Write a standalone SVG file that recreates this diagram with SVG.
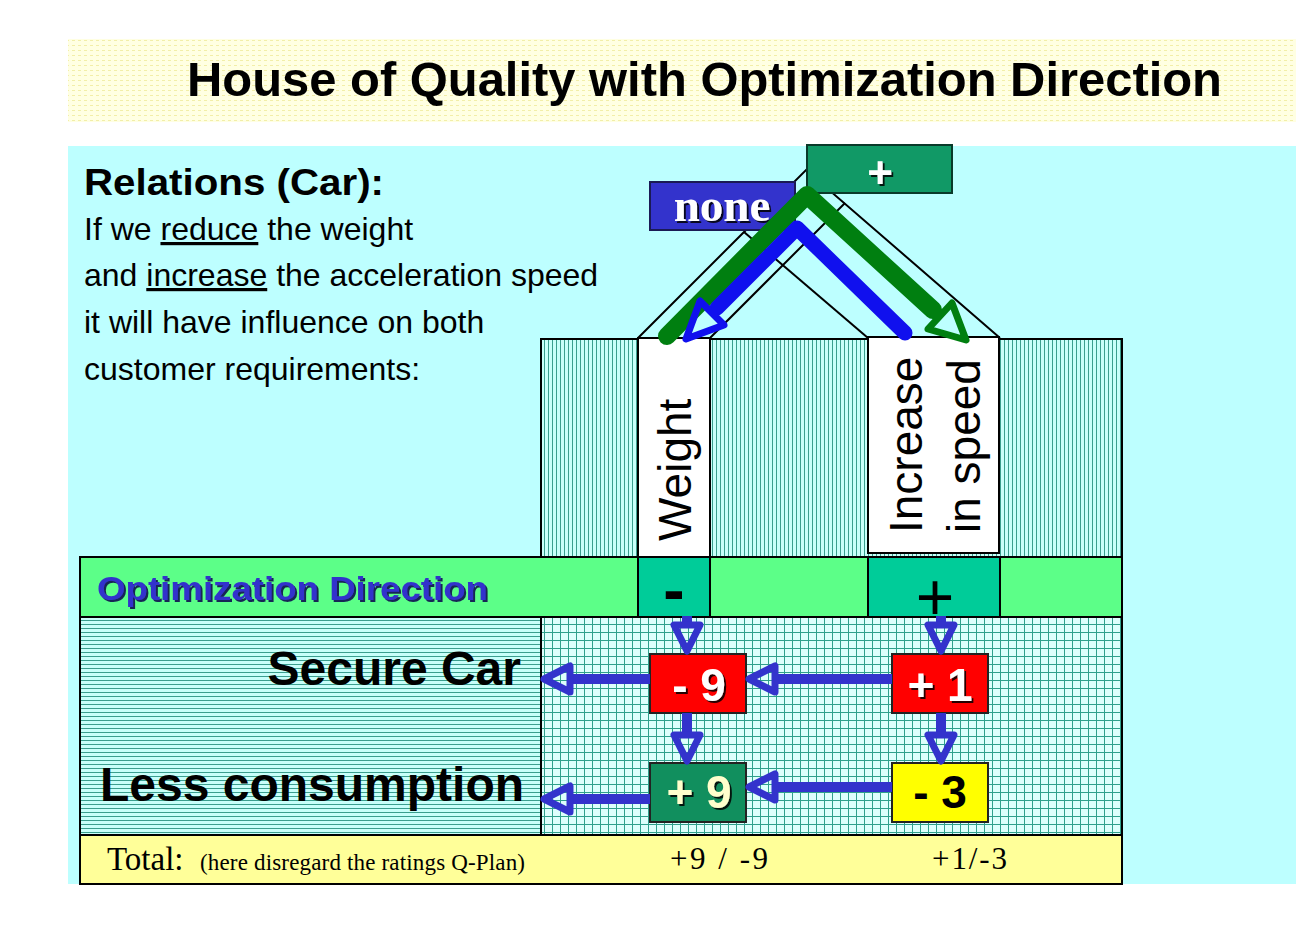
<svg xmlns="http://www.w3.org/2000/svg" width="1296" height="932" viewBox="0 0 1296 932">
<defs>
  <style>
    .sans { font-family: "Liberation Sans", Arial, sans-serif; }
    .serif { font-family: "Liberation Serif", "Times New Roman", serif; }
    .frame { stroke: #000; stroke-width: 2; }
    .roof { stroke: #000; stroke-width: 2; fill: none; }
    .conn { stroke: #3333CC; stroke-width: 10; fill: none; marker-end: url(#hb); }
    .boxtxt { font-family: "Liberation Sans", Arial, sans-serif; font-weight: bold; font-size: 46px; text-anchor: middle; }
  </style>
  <pattern id="titlePat" width="6" height="5" patternUnits="userSpaceOnUse">
    <rect width="6" height="5" fill="#FFFFE2"/>
    <rect x="0" y="0" width="3" height="1" fill="#F2EEA8"/>
  </pattern>
  <pattern id="vh" width="4" height="10" patternUnits="userSpaceOnUse">
    <rect width="4" height="10" fill="#C8FFFA"/>
    <rect x="0" y="0" width="1" height="10" fill="#3A9E8E"/>
  </pattern>
  <pattern id="hh" width="10" height="4" patternUnits="userSpaceOnUse">
    <rect width="10" height="4" fill="#C8FFFA"/>
    <rect x="0" y="0" width="10" height="1" fill="#3A9E8E"/>
  </pattern>
  <pattern id="grid" width="8" height="8" patternUnits="userSpaceOnUse">
    <rect width="8" height="8" fill="#DDFFFC"/>
    <rect x="0" y="0" width="1" height="8" fill="#2FA08C"/>
    <rect x="0" y="0" width="8" height="1" fill="#2FA08C"/>
  </pattern>
  <filter id="sh" x="-20%" y="-20%" width="140%" height="150%">
    <feDropShadow dx="2" dy="2" stdDeviation="0.4" flood-color="#000" flood-opacity="0.85"/>
  </filter>
  <filter id="shBlue" x="-10%" y="-20%" width="120%" height="150%">
    <feDropShadow dx="2" dy="2" stdDeviation="0.3" flood-color="#101050" flood-opacity="0.9"/>
  </filter>
  <marker id="hb" markerUnits="userSpaceOnUse" orient="auto" viewBox="-30 -30 60 60" markerWidth="60" markerHeight="60" refX="0" refY="0" overflow="visible">
    <path d="M0,-13 L26,0 L0,13 Z" fill="none" stroke="#3333CC" stroke-width="7" stroke-linejoin="round"/>
  </marker>
</defs>

<!-- backgrounds -->
<rect x="0" y="0" width="1296" height="932" fill="#FFFFFF"/>
<rect x="68" y="39" width="1228" height="83" fill="url(#titlePat)"/>
<rect x="68" y="146" width="1228" height="738" fill="#BDFFFF"/>

<g id="title">
  <text class="sans" x="187" y="96" font-size="48" font-weight="bold" fill="#000" textLength="1035" lengthAdjust="spacingAndGlyphs">House of Quality with Optimization Direction</text>
</g>

<g id="description" class="sans" fill="#000">
  <text x="84" y="195" font-size="36" font-weight="bold" textLength="300" lengthAdjust="spacingAndGlyphs">Relations (Car):</text>
  <text x="84" y="240" font-size="32">If we  <tspan text-decoration="underline">reduce</tspan> the weight</text>
  <text x="84" y="286" font-size="32">and <tspan text-decoration="underline">increase</tspan> the acceleration speed</text>
  <text x="84" y="333" font-size="32">it will have influence on both</text>
  <text x="84" y="380" font-size="32">customer requirements:</text>
</g>

<!-- header (columns) area -->
<g id="header-area">
  <rect x="541" y="339" width="581" height="218" fill="url(#vh)" class="frame"/>
</g>

<g id="col-weight">
  <rect x="638" y="338" width="72" height="219" fill="#FFFFFF" class="frame"/>
  <text class="sans" font-size="46" fill="#000" transform="translate(691,541) rotate(-90)">Weight</text>
</g>

<g id="col-speed">
  <rect x="868" y="337" width="131" height="216" fill="#FFFFFF" class="frame"/>
  <text class="sans" font-size="46" fill="#000" transform="translate(922,533) rotate(-90)">Increase</text>
  <text class="sans" font-size="46" fill="#000" transform="translate(980,533) rotate(-90)">in speed</text>
</g>

<!-- roof -->
<g id="roof">
  <polyline class="roof" points="638,338 806,170 1000,338"/>
  <line class="roof" x1="710" y1="338" x2="845" y2="203"/>
  <line class="roof" x1="868" y1="338" x2="744" y2="232"/>
</g>

<g id="corr-none">
  <rect x="650" y="182" width="145" height="48" fill="#3333CC" stroke="#1A1A55" stroke-width="2"/>
  <text class="serif" x="722" y="221" font-size="47" font-weight="bold" fill="#FFFFFF" text-anchor="middle" filter="url(#sh)">none</text>
</g>

<g id="corr-plus">
  <rect x="807" y="145" width="145" height="48" fill="#119966" stroke="#0A3A2A" stroke-width="2"/>
  <text class="sans" x="880" y="188" font-size="44" font-weight="bold" fill="#FFFFFF" text-anchor="middle" filter="url(#sh)">+</text>
</g>

<!-- optimization direction row -->
<g id="opt-row">
  <rect x="80" y="557" width="1042" height="60" fill="#5CFF88" class="frame"/>
  <rect x="638" y="557" width="72" height="60" fill="#00CC99" class="frame"/>
  <rect x="868" y="557" width="132" height="60" fill="#00CC99" class="frame"/>
  <text class="sans" x="97" y="600" font-size="34" font-weight="bold" fill="#3333CC" textLength="391" lengthAdjust="spacingAndGlyphs" filter="url(#shBlue)">Optimization Direction</text>
  <text class="sans" x="674" y="612" font-size="64" font-weight="bold" fill="#000" text-anchor="middle">-</text>
  <text class="sans" x="935" y="620" font-size="66" fill="#000" text-anchor="middle">+</text>
</g>

<!-- matrix -->
<g id="matrix">
  <rect x="80" y="617" width="461" height="218" fill="url(#hh)" class="frame"/>
  <rect x="541" y="617" width="581" height="218" fill="url(#grid)" class="frame"/>
</g>

<g id="req-secure">
  <text class="sans" x="521" y="685" font-size="48" font-weight="bold" fill="#000" text-anchor="end">Secure Car</text>
</g>
<g id="req-less">
  <text class="sans" x="100" y="801" font-size="48" font-weight="bold" fill="#000">Less consumption</text>
</g>

<g id="cell-m9">
  <rect x="650" y="654" width="96" height="59" fill="#FF0000" stroke="#222" stroke-width="2"/>
  <text class="boxtxt" x="699" y="701" fill="#FFFFFF" filter="url(#sh)">- 9</text>
</g>
<g id="cell-p1">
  <rect x="892" y="654" width="96" height="59" fill="#FF0000" stroke="#222" stroke-width="2"/>
  <text class="boxtxt" x="940" y="701" fill="#FFFFFF" filter="url(#sh)">+ 1</text>
</g>
<g id="cell-p9">
  <rect x="650" y="763" width="96" height="59" fill="#118F5E" stroke="#222" stroke-width="2"/>
  <text class="boxtxt" x="699" y="808" fill="#FFFFCC" filter="url(#sh)">+ 9</text>
</g>
<g id="cell-m3">
  <rect x="892" y="763" width="96" height="59" fill="#FFFF00" stroke="#222" stroke-width="2"/>
  <text class="boxtxt" x="940" y="808" fill="#000000">- 3</text>
</g>

<!-- total row -->
<g id="total-row">
  <rect x="80" y="835" width="1042" height="49" fill="#FFFF99" class="frame"/>
  <text class="serif" x="107" y="870" font-size="33" fill="#000">Total:</text>
  <text class="serif" x="200" y="870" font-size="23" fill="#000" textLength="325" lengthAdjust="spacing">(here disregard the ratings Q-Plan)</text>
  <text class="serif" x="670" y="869" font-size="31" fill="#000" textLength="98" lengthAdjust="spacing">+9 / -9</text>
  <text class="serif" x="932" y="869" font-size="31" fill="#000" textLength="75" lengthAdjust="spacing">+1/-3</text>
</g>

<!-- connectors -->
<g id="connectors">
  <path class="conn" d="M687,616 V625"/>
  <path class="conn" d="M941,616 V625"/>
  <path class="conn" d="M687,713 V735"/>
  <path class="conn" d="M941,713 V735"/>
  <path class="conn" d="M892,679 H775"/>
  <path class="conn" d="M892,787 H775"/>
  <path class="conn" d="M650,679 H570"/>
  <path class="conn" d="M650,799 H570"/>
  <!-- roof correlation arrows -->
  <path d="M667,336 L807,195 L933,310" fill="none" stroke="#007F10" stroke-width="18" stroke-linecap="round" stroke-linejoin="round"/>
  <path d="M928,329 L952,303 L966,340 Z" fill="none" stroke="#007F10" stroke-width="7" stroke-linejoin="round"/>
  <path d="M905,333 L797,228 L717,308" fill="none" stroke="#1010EE" stroke-width="15" stroke-linecap="round" stroke-linejoin="round"/>
  <path d="M724,325 L700,301 L686,339 Z" fill="none" stroke="#1010EE" stroke-width="7" stroke-linejoin="round"/>
</g>
</svg>
